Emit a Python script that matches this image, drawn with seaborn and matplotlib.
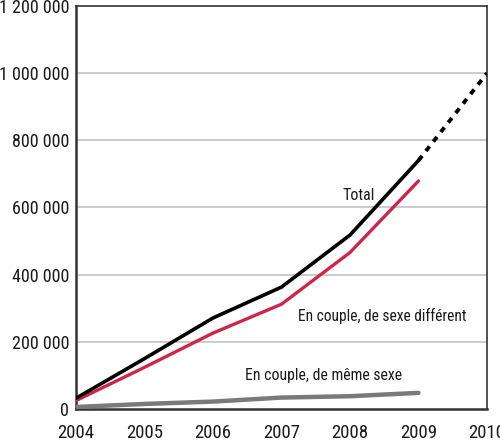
import matplotlib
matplotlib.use("Agg")
import matplotlib.pyplot as plt
import seaborn as sns
import pandas as pd
from matplotlib.ticker import FuncFormatter

years = [2004, 2005, 2006, 2007, 2008, 2009]
total = [32000, 150000, 271000, 363000, 518000, 740000]
diff_sex = [25000, 124000, 226000, 312000, 466000, 679000]
same_sex = [6000, 15000, 22000, 34000, 38000, 48000]
proj_years = [2009, 2010]
proj_total = [740000, 1000000]
x_ticks = [2004, 2005, 2006, 2007, 2008, 2009, 2010]
y_ticks = [0, 200000, 400000, 600000, 800000, 1000000, 1200000]

sns.set_theme(style="white")
plt.rcParams["font.family"] = ["Roboto Condensed", "Liberation Sans", "DejaVu Sans"]

fig = plt.figure(figsize=(5, 4.42), dpi=100)
ax = fig.add_axes([0.152, 0.0747, 0.822, 0.9117])

df = pd.DataFrame({"year": years, "total": total, "diff": diff_sex, "same": same_sex})
dp = pd.DataFrame({"year": proj_years, "total": proj_total})

for y in y_ticks[1:-1]:
    ax.axhline(y, color="#bdbdbd", lw=1.1, zorder=0)

sns.lineplot(data=df, x="year", y="same", ax=ax, color="#7a7a7a", lw=3.2, zorder=3)
sns.lineplot(data=df, x="year", y="diff", ax=ax, color="#c8284a", lw=2.4, zorder=4)
sns.lineplot(data=df, x="year", y="total", ax=ax, color="black", lw=2.6, zorder=5)
l = sns.lineplot(data=dp, x="year", y="total", ax=ax, color="black", lw=2.8, zorder=5)
l.lines[-1].set_dashes((1.5, 1.6))
l.lines[-1].set_dash_capstyle("butt")

ax.set_xlim(2004, 2010)
ax.set_ylim(0, 1200000)
ax.set_xticks(x_ticks)
ax.set_yticks(y_ticks)
ax.yaxis.set_major_formatter(FuncFormatter(lambda v, p: f"{int(v):,}".replace(",", " ")))
ax.set_xlabel("")
ax.set_ylabel("")
ax.tick_params(axis="x", direction="in", length=5, width=1.2, color="#222222", pad=10.5, labelsize=13.5)
ax.tick_params(axis="y", length=0, pad=5, labelsize=13)
for lab in ax.get_xticklabels() + ax.get_yticklabels():
    lab.set_color("#1a1a1a")
for s in ["left", "bottom"]:
    ax.spines[s].set_linewidth(1.8)
    ax.spines[s].set_color("#333333")
for s in ["top", "right"]:
    ax.spines[s].set_linewidth(1.2)
    ax.spines[s].set_color("#333333")

ax.text(2008.12, 637000, "Total", fontsize=11.5, ha="center", va="center", color="#1a1a1a")
ax.text(2008.47, 277000, "En couple, de sexe différent", fontsize=11.2, ha="center", va="center", color="#1a1a1a")
ax.text(2007.62, 101000, "En couple, de même sexe", fontsize=11.3, ha="center", va="center", color="#1a1a1a")

fig.savefig("out.png", dpi=100)
